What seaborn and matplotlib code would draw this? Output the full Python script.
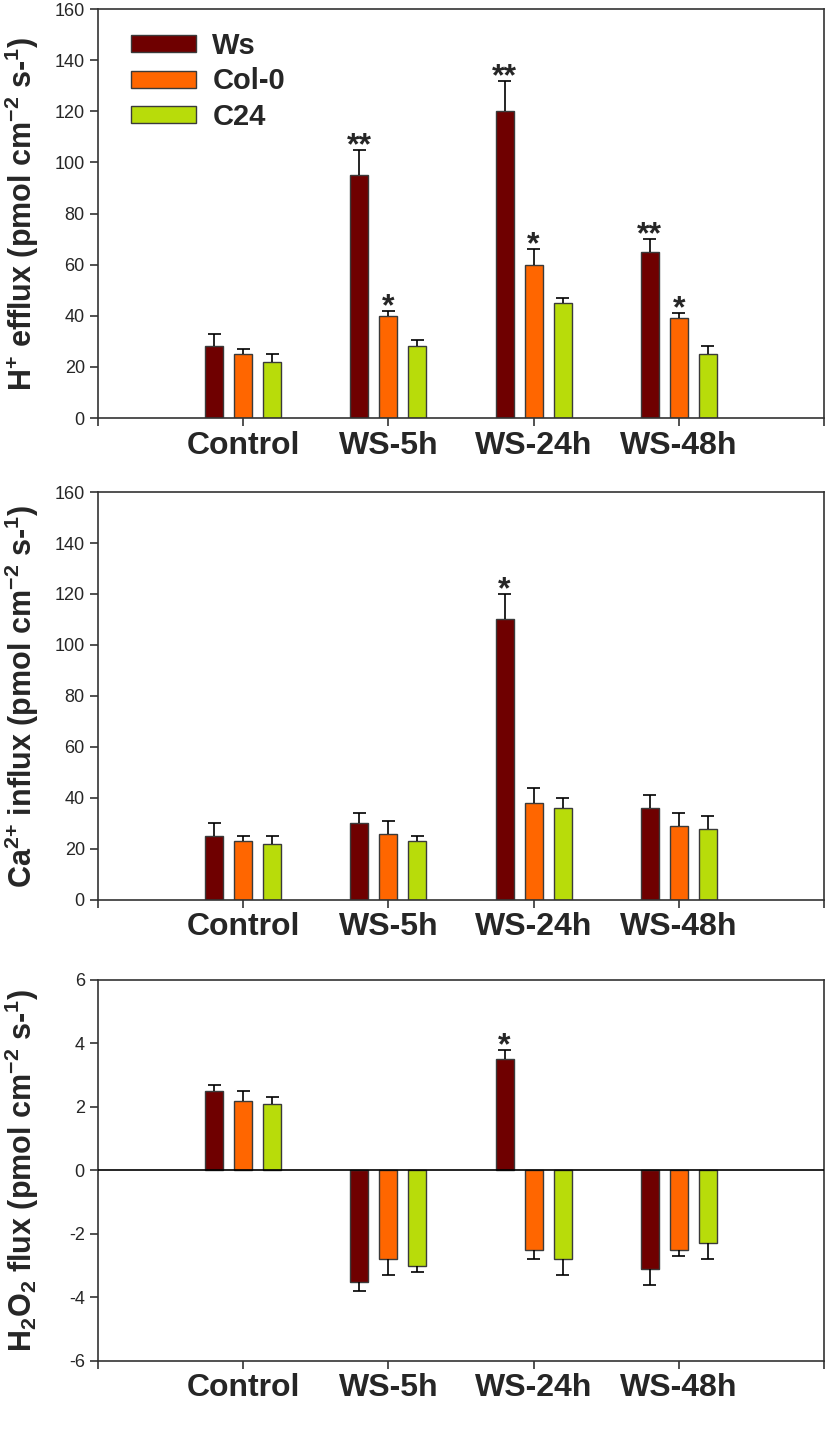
"""
H+, Ca2+ and H2O2 flux of three Arabidopsis lines under water stress
"""
import numpy as np
import pandas as pd
import matplotlib
matplotlib.use('Agg')
import matplotlib.pyplot as plt
import seaborn as sns

# ── 데이터 ────────────────────────────────────────────
conditions = ['Control', 'WS-5h', 'WS-24h', 'WS-48h']
lines = ['Ws', 'Col-0', 'C24']
line_colors = ['#6F0000', '#FF6600', '#B8DC0A']

# H+ efflux (mean, SE), order: Control, WS-5h, WS-24h, WS-48h
h_ws = [28, 95, 120, 65]
h_col = [25, 40, 60, 39]
h_c24 = [22, 28, 45, 25]
h_ws_se = [5, 10, 12, 5]
h_col_se = [2, 2, 6, 2]
h_c24_se = [3, 2.5, 2, 3]

# Ca2+ influx
ca_ws = [25, 30, 110, 36]
ca_col = [23, 26, 38, 29]
ca_c24 = [22, 23, 36, 28]
ca_ws_se = [5, 4, 10, 5]
ca_col_se = [2, 5, 6, 5]
ca_c24_se = [3, 2, 4, 5]

# H2O2 flux
ho_ws = [2.5, -3.5, 3.5, -3.1]
ho_col = [2.2, -2.8, -2.5, -2.5]
ho_c24 = [2.1, -3.0, -2.8, -2.3]
ho_ws_se = [0.2, 0.3, 0.3, 0.5]
ho_col_se = [0.3, 0.5, 0.3, 0.2]
ho_c24_se = [0.2, 0.2, 0.5, 0.5]

# significance marks: (line, condition, text)
h_marks = [('Ws', 'WS-5h', '**'), ('Col-0', 'WS-5h', '*'),
           ('Ws', 'WS-24h', '**'), ('Col-0', 'WS-24h', '*'),
           ('Ws', 'WS-48h', '**'), ('Col-0', 'WS-48h', '*')]
ca_marks = [('Ws', 'WS-24h', '*')]
ho_marks = [('Ws', 'WS-24h', '*')]


def long_table(ws, col, c24, ws_se, col_se, c24_se):
    rows = []
    for ln, vals, ses in zip(lines, [ws, col, c24], [ws_se, col_se, c24_se]):
        for cond, v, s in zip(conditions, vals, ses):
            rows.append({'cond': cond, 'line': ln, 'val': v, 'se': s})
    return pd.DataFrame(rows)


panels = [
    (long_table(h_ws, h_col, h_c24, h_ws_se, h_col_se, h_c24_se), h_marks,
     r'H$^{\mathbf{{+}}}$ efflux (pmol cm$^{\mathbf{-2}}$ s-$^{\mathbf{1}}$)',
     (0, 160), np.arange(0, 161, 20)),
    (long_table(ca_ws, ca_col, ca_c24, ca_ws_se, ca_col_se, ca_c24_se), ca_marks,
     r'Ca$^{\mathbf{2{+}}}$ influx (pmol cm$^{\mathbf{-2}}$ s-$^{\mathbf{1}}$)',
     (0, 160), np.arange(0, 161, 20)),
    (long_table(ho_ws, ho_col, ho_c24, ho_ws_se, ho_col_se, ho_c24_se), ho_marks,
     r'H$_{\mathbf{2}}$O$_{\mathbf{2}}$ flux (pmol cm$^{\mathbf{-2}}$ s-$^{\mathbf{1}}$)',
     (-6, 6), np.arange(-6, 7, 2)),
]

# ── 스타일 ────────────────────────────────────────────
sns.set_style('ticks')
plt.rcParams['font.family'] = ['Liberation Sans', 'DejaVu Sans']
plt.rcParams['mathtext.fontset'] = 'custom'
plt.rcParams['mathtext.rm'] = 'Liberation Sans'
plt.rcParams['mathtext.bf'] = 'Liberation Sans:bold'
plt.rcParams['axes.edgecolor'] = '#333333'
plt.rcParams['axes.linewidth'] = 1.2

fig = plt.figure(figsize=(8.26, 14.42), dpi=100)
boxes = [(0.1186, 0.7101, 0.8790, 0.2836),
         (0.1186, 0.3759, 0.8790, 0.2829),
         (0.1186, 0.0562, 0.8790, 0.2642)]
half_cap = 0.045  # half width of an error bar cap, in category units

for i, ((df, marks, ylabel, ylim, yticks), box) in enumerate(zip(panels, boxes)):
    ax = fig.add_axes(box)
    sns.barplot(data=df, x='cond', y='val', hue='line', order=conditions,
                hue_order=lines, palette=line_colors, saturation=1,
                width=0.6, gap=0.38, errorbar=None, edgecolor='#3a3a3a',
                linewidth=1, legend=(i == 0), ax=ax)

    # one-sided error bars, pointing away from zero
    tips = {}
    for ln, cont in zip(lines, ax.containers):
        sub = df[df['line'] == ln].set_index('cond').loc[conditions]
        xs = np.array([b.get_x() + b.get_width() / 2 for b in cont])
        vals = sub['val'].values
        ses = sub['se'].values
        ends = np.where(vals >= 0, vals + ses, vals - ses)
        ax.vlines(xs, vals, ends, color='black', linewidth=1.2, zorder=1)
        ax.hlines(ends, xs - half_cap, xs + half_cap, color='black',
                  linewidth=1.2, zorder=1)
        for cond, x, e in zip(conditions, xs, ends):
            tips[(ln, cond)] = (x, e)

    for ln, cond, txt in marks:
        x, y = tips[(ln, cond)]
        ax.annotate(txt, (x, y), xytext=(0, -3), textcoords='offset points',
                    ha='center', va='baseline', fontsize=23, fontweight='bold')

    if ylim[0] < 0:
        ax.axhline(0, color='black', linewidth=1.2, zorder=3)

    ax.set_xlim(-1, 4)
    ax.set_ylim(*ylim)
    ax.set_yticks(yticks)
    ax.set_yticklabels([str(t) for t in yticks], fontsize=13)
    ax.set_xticks(range(-1, 5))
    ax.set_xticklabels([''] + conditions + [''], fontsize=23, fontweight='bold')
    ax.tick_params(axis='both', direction='out', length=6, width=1.2,
                   color='#333333')
    ax.tick_params(axis='x', pad=3)
    for side in ['top', 'right', 'left', 'bottom']:
        ax.spines[side].set_visible(True)
    ax.set_xlabel('')
    ax.set_ylabel(ylabel, fontsize=22, fontweight='bold')
    ax.yaxis.set_label_coords(-0.078, 0.5)

    if i == 0:
        sns.move_legend(ax, 'upper left', bbox_to_anchor=(0.045, 0.945),
                        frameon=False, title=None, fontsize=21,
                        handlelength=2.25, handleheight=0.52,
                        labelspacing=0.27, handletextpad=0.55,
                        borderaxespad=0, borderpad=0)
        for t in ax.get_legend().get_texts():
            t.set_fontweight('bold')

fig.savefig('out.png', dpi=100)
